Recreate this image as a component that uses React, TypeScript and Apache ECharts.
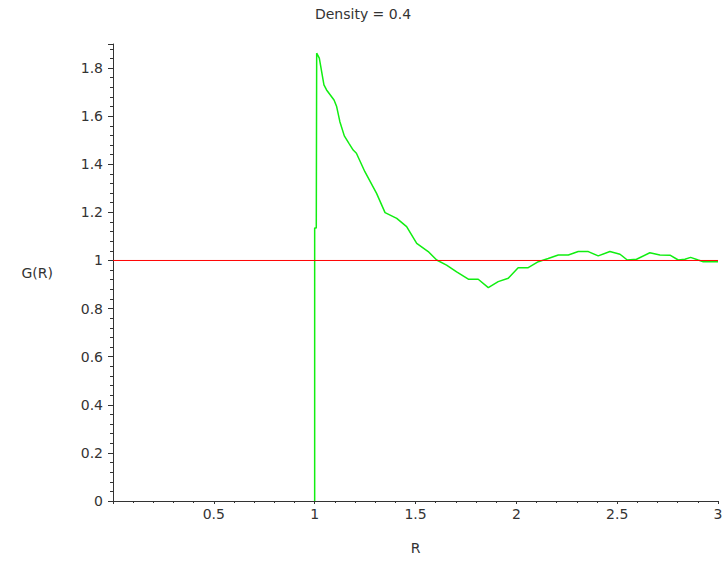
import React, { useEffect, useRef } from 'react';
import * as echarts from 'echarts';

const chartTitle = 'Density = 0.4';
const xName = 'R';
const yName = 'G(R)';

const rValues = [
  1.0, 1.0, 1.008, 1.01, 1.023, 1.046, 1.059, 1.096, 1.109, 1.125,
  1.147, 1.17, 1.191, 1.207, 1.249, 1.307, 1.349, 1.407, 1.456, 1.506,
  1.563, 1.605, 1.654, 1.704, 1.762, 1.811, 1.861, 1.91, 1.96, 2.009,
  2.059, 2.109, 2.158, 2.208, 2.258, 2.307, 2.357, 2.406, 2.464, 2.514,
  2.55, 2.596, 2.662, 2.712, 2.762, 2.803, 2.836, 2.864, 2.902, 2.927, 3.0,
];
const gValues = [
  0, 1.135, 1.135, 1.862, 1.841, 1.73, 1.709, 1.667, 1.64, 1.577,
  1.518, 1.487, 1.459, 1.446, 1.369, 1.279, 1.199, 1.175, 1.141, 1.071,
  1.037, 1.002, 0.981, 0.953, 0.922, 0.922, 0.887, 0.912, 0.926, 0.97,
  0.97, 0.995, 1.008, 1.023, 1.023, 1.037, 1.037, 1.019, 1.037, 1.026,
  1.002, 1.005, 1.032, 1.023, 1.022, 1.002, 1.005, 1.013, 1.002, 0.995, 0.995,
];
const refR = [0, 3];
const refG = [1, 1];

const xMin = 0;
const xMax = 3;
const xStep = 0.5;
const yMin = 0;
const yMax = 1.9;
const yStep = 0.2;

const FONT = 'DejaVu Sans';
const TXT = '#333333';
const AXIS = '#333333';

export default function App() {
  const ref = useRef<HTMLDivElement>(null);
  useEffect(() => {
    if (!ref.current) return;
    const chart = echarts.init(ref.current, undefined, { renderer: 'svg' });
    chart.setOption({
      animation: false,
      backgroundColor: '#ffffff',
      title: {
        text: chartTitle,
        left: 'center',
        top: 2,
        textStyle: { fontFamily: FONT, fontSize: 14, fontWeight: 'normal', color: TXT },
      },
      grid: { left: 113, right: 8, top: 44, bottom: 62, containLabel: false },
      xAxis: {
        type: 'value',
        min: xMin,
        max: xMax,
        interval: xStep,
        name: xName,
        nameLocation: 'middle',
        nameGap: 40,
        nameTextStyle: { fontFamily: FONT, fontSize: 14, color: TXT },
        axisLine: { show: true, onZero: true, lineStyle: { color: AXIS, width: 1 } },
        axisTick: { show: true, length: 3, lineStyle: { color: AXIS } },
        minorTick: { show: true, splitNumber: 5, length: 2, lineStyle: { color: AXIS } },
        splitLine: { show: false },
        axisLabel: {
          fontFamily: FONT,
          fontSize: 14,
          color: TXT,
          margin: 6,
          formatter: (v: number) => (v === 0 ? '' : String(v)),
        },
      },
      yAxis: {
        type: 'value',
        min: yMin,
        max: yMax,
        interval: yStep,
        name: yName,
        nameLocation: 'middle',
        nameRotate: 0,
        nameGap: 60,
        nameTextStyle: { fontFamily: FONT, fontSize: 14, color: TXT },
        axisLine: { show: true, onZero: false, lineStyle: { color: AXIS, width: 1 } },
        axisTick: { show: true, length: 5, lineStyle: { color: AXIS } },
        minorTick: { show: true, splitNumber: 5, length: 3, lineStyle: { color: AXIS } },
        splitLine: { show: false },
        axisLabel: {
          fontFamily: FONT,
          fontSize: 14,
          color: TXT,
          margin: 10,
          formatter: (v: number) =>
            Math.abs(v - yMax) < 1e-6 ? '' : String(Math.round(v * 10) / 10),
        },
      },
      series: [
        {
          type: 'line',
          data: rValues.map((r, i) => [r, gValues[i]]),
          showSymbol: false,
          symbol: 'none',
          lineStyle: { color: '#11ee11', width: 1.5 },
          clip: false,
          z: 2,
        },
        {
          type: 'line',
          data: refR.map((r, i) => [r, refG[i]]),
          showSymbol: false,
          symbol: 'none',
          lineStyle: { color: '#ff0000', width: 1 },
          clip: false,
          z: 3,
        },
      ],
    });
    return () => chart.dispose();
  }, []);
  return (
    <div
      ref={ref}
      style={{ position: 'fixed', left: 0, top: 0, width: 726, height: 563 }}
    />
  );
}
